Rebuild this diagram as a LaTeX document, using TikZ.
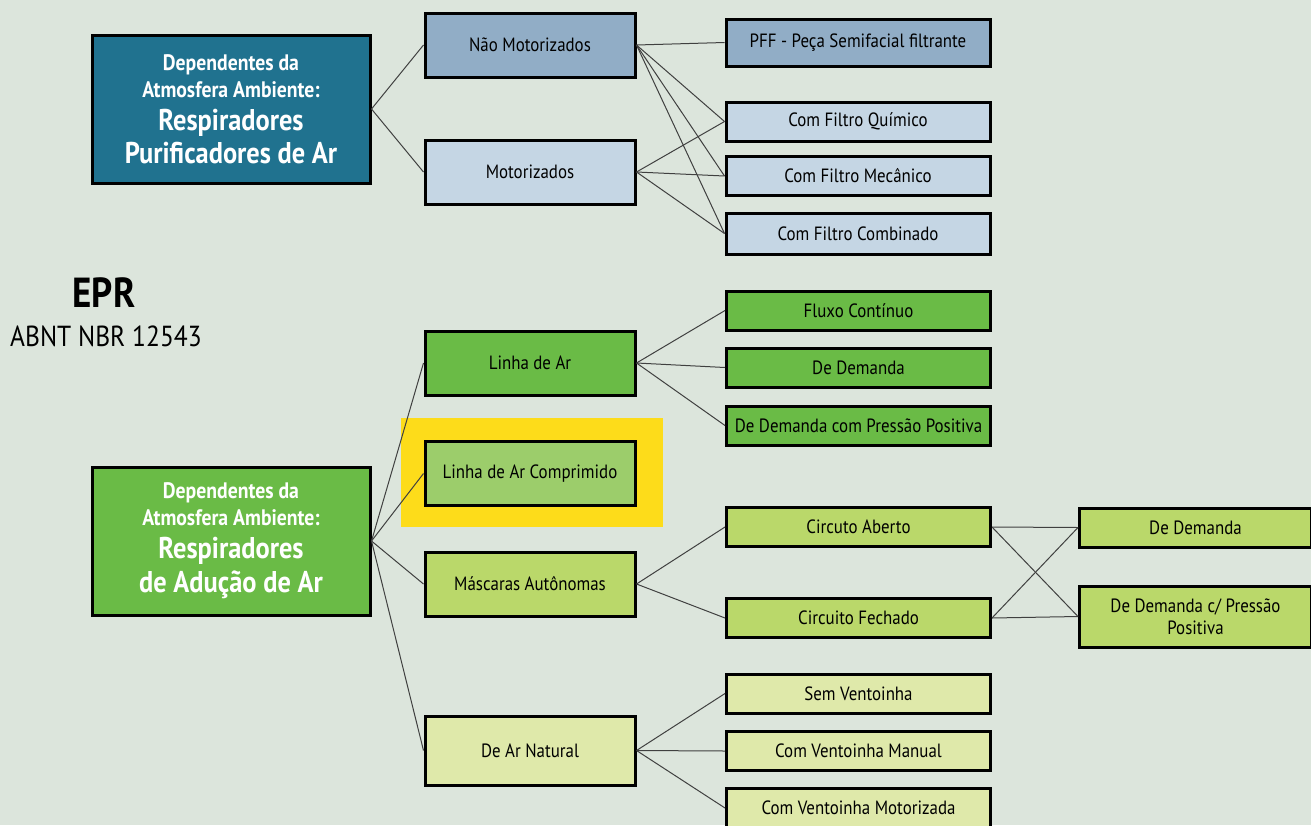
\documentclass[tikz,border=0pt]{standalone}
\usepackage{fontspec}
\setmainfont{PT Sans}[FakeStretch=0.88]
\usetikzlibrary{positioning}
\definecolor{bgcol}{HTML}{DCE5DC}
\definecolor{tealbox}{HTML}{20728F}
\definecolor{bluemid}{HTML}{91ADC6}
\definecolor{bluelight}{HTML}{C5D6E4}
\definecolor{greenfull}{HTML}{6ABB46}
\definecolor{greenmid}{HTML}{9CCD6B}
\definecolor{greenlime}{HTML}{BAD86A}
\definecolor{greenpale}{HTML}{DFE9AA}
\definecolor{hilite}{HTML}{FDDC1A}
\definecolor{linkgray}{HTML}{404040}
\newcommand{\smallhead}{\fontsize{11.2}{13.5}\selectfont\bfseries}
\newcommand{\bighead}{\fontsize{15}{16.5}\selectfont\bfseries}

\begin{document}
\begin{tikzpicture}[
  x=0.5pt, y=-0.5pt,
  box/.style={draw=black, line width=1.5pt, align=center, inner sep=1pt, font=\fontsize{9.6}{11}\selectfont},
  mainbox/.style={box, minimum width=139pt, minimum height=74pt, text=white},
  midbox/.style={box, minimum width=105pt, minimum height=32pt},
  leafbox/.style={box, minimum width=132pt, minimum height=19.5pt},
  rightbox/.style={box, minimum width=116pt, minimum height=19.5pt},
  link/.style={draw=linkgray, line width=0.5pt}
]
\fill[bgcol] (0,0) rectangle (1311,825);
\useasboundingbox (0,0) rectangle (1311,825);

% purificadores
\node[mainbox, fill=tealbox] (purif) at (231,109)
  {\smallhead Dependentes da\\[2.5pt] \smallhead Atmosfera Ambiente:\\[5.5pt]
   \bighead Respiradores\\[2pt] \bighead Purificadores de Ar};
\node[midbox, fill=bluemid] (naomot) at (530,45) {Não Motorizados};
\node[midbox, fill=bluelight] (mot) at (530,172) {Motorizados};
\node[leafbox, fill=bluemid, minimum height=23.5pt] (pff) at (858,42.5) {PFF - Peça Semifacial filtrante};
\node[leafbox, fill=bluelight] (quim) at (858,121.5) {Com Filtro Químico};
\node[leafbox, fill=bluelight] (mec) at (858,176) {Com Filtro Mecânico};
\node[leafbox, fill=bluelight, minimum height=20.5pt] (comb) at (858,233.5) {Com Filtro Combinado};

% titulo
\node[font=\fontsize{21}{24}\selectfont\bfseries] (epr) at (104,293) {EPR};
\node[font=\fontsize{14.5}{17}\selectfont] (abnt) at (106,336) {ABNT NBR 12543};

% aducao
\fill[hilite] (401,418) rectangle (663,527);
\node[mainbox, fill=greenfull] (aduc) at (231,541)
  {\smallhead Dependentes da\\[2.5pt] \smallhead Atmosfera Ambiente:\\[5.5pt]
   \bighead Respiradores\\[2pt] \bighead de Adução de Ar};
\node[midbox, fill=greenfull] (linha) at (530,363) {Linha de Ar};
\node[midbox, fill=greenmid] (compr) at (530,473.5) {Linha de Ar Comprimido};
\node[midbox, fill=greenlime] (masc) at (530,584) {Máscaras Autônomas};
\node[midbox, fill=greenpale, minimum height=34.5pt] (natur) at (530,750.5) {De Ar Natural};
\node[leafbox, fill=greenfull] (fluxo) at (858.5,310.5) {Fluxo Contínuo};
\node[leafbox, fill=greenfull] (dem) at (858.5,367.5) {De Demanda};
\node[leafbox, fill=greenfull] (dempp) at (858.5,425.5) {De Demanda com Pressão Positiva};
\node[leafbox, fill=greenlime] (aberto) at (858.5,527) {Circuto Aberto};
\node[leafbox, fill=greenlime] (fechado) at (858.5,618) {Circuito Fechado};
\node[rightbox, fill=greenlime] (rdem) at (1195.5,527.5) {De Demanda};
\node[rightbox, fill=greenlime, minimum height=30.5pt] (rdempp) at (1195.5,616.5) {De Demanda c/ Pressão\\ Positiva};
\node[leafbox, fill=greenpale] (semv) at (858.5,693.5) {Sem Ventoinha};
\node[leafbox, fill=greenpale] (manv) at (858.5,751) {Com Ventoinha Manual};
\node[leafbox, fill=greenpale] (motv) at (858.5,808) {Com Ventoinha Motorizada};

% ligacoes
\foreach \t in {naomot,mot} \draw[link] (purif.east) -- (\t.west);
\foreach \t in {pff,quim,mec,comb} \draw[link] (naomot.east) -- (\t.west);
\foreach \t in {quim,mec,comb} \draw[link] (mot.east) -- (\t.west);
\foreach \t in {linha,compr,masc,natur} \draw[link] (aduc.east) -- (\t.west);
\foreach \t in {fluxo,dem,dempp} \draw[link] (linha.east) -- (\t.west);
\foreach \t in {aberto,fechado} \draw[link] (masc.east) -- (\t.west);
\foreach \s in {aberto,fechado}
  \foreach \t in {rdem,rdempp} \draw[link] (\s.east) -- (\t.west);
\foreach \t in {semv,manv,motv} \draw[link] (natur.east) -- (\t.west);
\end{tikzpicture}
\end{document}
